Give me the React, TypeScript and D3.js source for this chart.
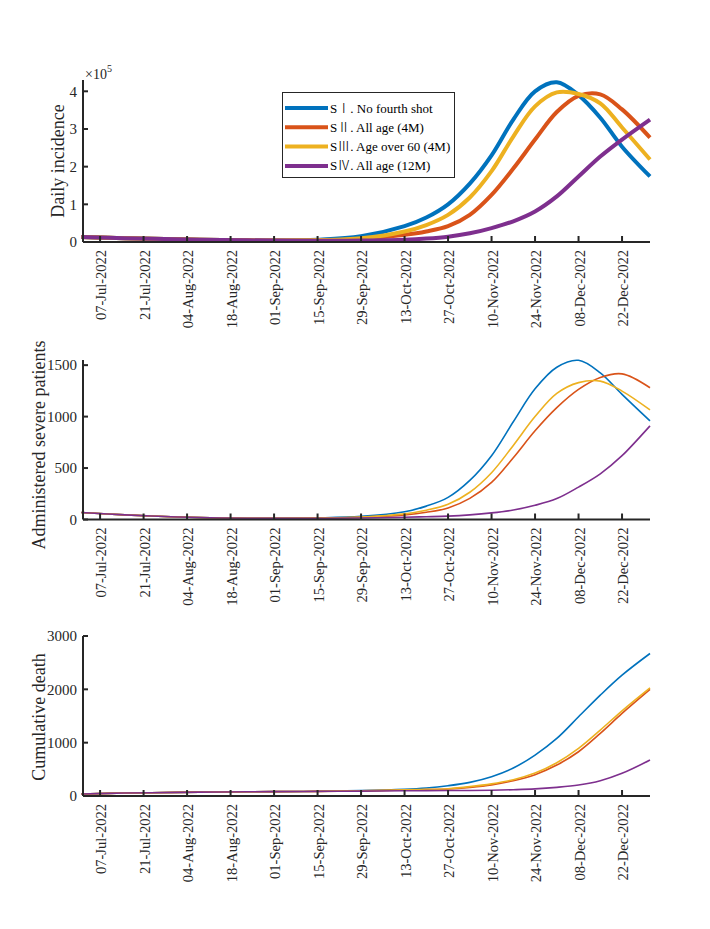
import React from "react";
import * as d3 from "d3";

// Sample dates
const sampleDates = [
  "2022-07-01", "2022-07-15", "2022-08-01", "2022-08-15", "2022-09-01", "2022-09-15",
  "2022-09-29", "2022-10-13", "2022-10-20", "2022-10-27", "2022-11-03", "2022-11-10",
  "2022-11-17", "2022-11-24", "2022-12-01", "2022-12-08", "2022-12-15", "2022-12-22", "2022-12-31",
];

// Daily incidence (x10^5)
const incS1 = [0.13, 0.10, 0.07, 0.05, 0.04, 0.06, 0.15, 0.42, 0.65, 1.0, 1.55, 2.3, 3.25, 4.0, 4.24, 3.9, 3.3, 2.53, 1.74];
const incS2 = [0.13, 0.10, 0.07, 0.05, 0.04, 0.04, 0.08, 0.19, 0.28, 0.42, 0.72, 1.25, 1.95, 2.72, 3.45, 3.88, 3.92, 3.52, 2.77];
const incS3 = [0.13, 0.10, 0.07, 0.05, 0.04, 0.05, 0.10, 0.28, 0.45, 0.72, 1.18, 1.88, 2.8, 3.6, 3.97, 3.93, 3.68, 3.04, 2.19];
const incS4 = [0.13, 0.10, 0.07, 0.05, 0.04, 0.03, 0.04, 0.06, 0.09, 0.14, 0.23, 0.37, 0.55, 0.81, 1.21, 1.74, 2.27, 2.72, 3.25];

// Administered severe patients
const sevS1 = [68, 45, 25, 15, 12, 16, 30, 75, 130, 215, 380, 620, 950, 1270, 1480, 1547, 1425, 1216, 958];
const sevS2 = [68, 45, 25, 15, 12, 14, 22, 45, 70, 112, 205, 360, 600, 862, 1087, 1264, 1380, 1415, 1280];
const sevS3 = [68, 45, 25, 15, 12, 15, 25, 55, 90, 148, 265, 455, 720, 1000, 1225, 1330, 1345, 1248, 1065];
const sevS4 = [68, 45, 25, 15, 12, 12, 15, 22, 27, 33, 45, 64, 92, 138, 203, 315, 444, 620, 910];

// Cumulative death
const deathS1 = [38, 55, 68, 76, 82, 88, 100, 125, 150, 193, 256, 362, 525, 768, 1080, 1485, 1891, 2266, 2672];
const deathS2 = [38, 55, 68, 76, 82, 87, 96, 112, 120, 131, 162, 208, 285, 400, 580, 830, 1174, 1548, 1998];
const deathS3 = [38, 55, 68, 76, 82, 87, 97, 115, 125, 137, 175, 228, 305, 430, 624, 893, 1236, 1598, 2028];
const deathS4 = [38, 55, 68, 76, 82, 86, 92, 98, 100, 102, 104, 108, 118, 133, 162, 206, 287, 425, 674];

const seriesNumerals = ["\u2160", "\u2161", "\u2162", "\u2163"];
const seriesNames = [". No fourth shot", ". All age (4M)", ". Age over 60 (4M)", ". All age (12M)"];
const seriesColors = ["#0072BD", "#D95319", "#EDB120", "#7E2F8E"];

const xTickDates = [
  "2022-07-07", "2022-07-21", "2022-08-04", "2022-08-18", "2022-09-01", "2022-09-15", "2022-09-29",
  "2022-10-13", "2022-10-27", "2022-11-10", "2022-11-24", "2022-12-08", "2022-12-22",
];
const monthAbbr = ["Jan", "Feb", "Mar", "Apr", "May", "Jun", "Jul", "Aug", "Sep", "Oct", "Nov", "Dec"];

const incTicks = [0, 1, 2, 3, 4];
const sevTicks = [0, 500, 1000, 1500];
const deathTicks = [0, 1000, 2000, 3000];

const parse = (s: string) => {
  const [y, m, d] = s.split("-").map(Number);
  return new Date(y, m - 1, d);
};
const fmtTick = (d: Date) =>
  `${String(d.getDate()).padStart(2, "0")}-${monthAbbr[d.getMonth()]}-${d.getFullYear()}`;

const AXIS = "#262626";
const FONT = "'Liberation Serif', 'Times New Roman', 'DejaVu Serif', serif";
const CJK = "'Noto Sans CJK SC', 'Noto Sans CJK JP', sans-serif";

const x = d3
  .scaleTime()
  .domain([new Date(2022, 6, 1, 12), new Date(2022, 11, 31)])
  .range([83, 650]);

type Panel = {
  top: number;
  bottom: number;
  ymax: number;
  ticks: number[];
  label: string;
  labelX: number;
  labelY: number;
  lw: number;
  series: number[][];
};

const panels: Panel[] = [
  { top: 80, bottom: 242, ymax: 4.3, ticks: incTicks, label: "Daily incidence", labelX: 64, labelY: 161, lw: 4, series: [incS1, incS2, incS3, incS4] },
  { top: 360, bottom: 519.5, ymax: 1550, ticks: sevTicks, label: "Administered severe patients", labelX: 45, labelY: 445, lw: 1.6, series: [sevS1, sevS2, sevS3, sevS4] },
  { top: 636, bottom: 796, ymax: 3000, ticks: deathTicks, label: "Cumulative death", labelX: 45, labelY: 717, lw: 1.6, series: [deathS1, deathS2, deathS3, deathS4] },
];

function PanelView({ p }: { p: Panel }) {
  const y = d3.scaleLinear().domain([0, p.ymax]).range([p.bottom, p.top]);
  const dates = sampleDates.map(parse);
  const line = d3
    .line<number>()
    .x((_, i) => x(dates[i]))
    .y((v) => y(v))
    .curve(d3.curveCatmullRom.alpha(0.5));
  const [x0, x1] = x.range();
  return (
    <g>
      {p.series.map((s, i) => (
        <path key={i} d={line(s) || ""} fill="none" stroke={seriesColors[i]} strokeWidth={p.lw} strokeLinejoin="round" />
      ))}
      {/* axes */}
      <line x1={x0} x2={x1} y1={p.bottom} y2={p.bottom} stroke={AXIS} strokeWidth={2} />
      <line x1={x0} x2={x0} y1={p.top} y2={p.bottom} stroke={AXIS} strokeWidth={2} />
      {xTickDates.map((ds) => {
        const d = parse(ds);
        const xx = x(d);
        return (
          <g key={ds}>
            <line x1={xx} x2={xx} y1={p.bottom} y2={p.bottom - 6} stroke={AXIS} strokeWidth={2} />
            <text
              transform={`translate(${xx + 1},${p.bottom + 8}) rotate(-90)`}
              textAnchor="end"
              dy="0.35em"
              fontSize={14.5}
              fontFamily={FONT}
              fill={AXIS}
            >
              {fmtTick(d)}
            </text>
          </g>
        );
      })}
      {p.ticks.map((t) => (
        <g key={t}>
          <line x1={x0} x2={x0 + 5} y1={y(t)} y2={y(t)} stroke={AXIS} strokeWidth={2} />
          <text x={x0 - 6} y={y(t)} dy="0.35em" textAnchor="end" fontSize={15} fontFamily={FONT} fill={AXIS}>
            {t}
          </text>
        </g>
      ))}
      <text
        transform={`translate(${p.labelX},${p.labelY}) rotate(-90)`}
        textAnchor="middle"
        fontSize={18}
        fontFamily={FONT}
        fill={AXIS}
      >
        {p.label}
      </text>
    </g>
  );
}

export default function App() {
  return (
    <svg
      width={710}
      height={929}
      viewBox="0 0 710 929"
      style={{ position: "absolute", left: 0, top: 0, background: "#fff" }}
    >
      <rect width={710} height={929} fill="#fff" />
      {panels.map((p, i) => (
        <PanelView key={i} p={p} />
      ))}
      {/* exponent label */}
      <text x={85} y={79} fontSize={14} fontFamily={FONT} fill={AXIS}>
        {"\u00D710"}
        <tspan fontSize={10} dy={-7}>5</tspan>
      </text>
      {/* legend */}
      <g>
        <rect x={282.5} y={92.5} width={172} height={85} fill="#fff" stroke={AXIS} strokeWidth={1} />
        {seriesNames.map((n, i) => {
          const yy = 108 + i * 19.3;
          return (
            <g key={n}>
              <line x1={285} x2={328} y1={yy} y2={yy} stroke={seriesColors[i]} strokeWidth={4} />
              <text x={330} y={yy} dy="0.35em" fontSize={13} fontFamily={FONT} fill="#000">
                S
                <tspan fontFamily={CJK} fontWeight={300}>{seriesNumerals[i]}</tspan>
                {n}
              </text>
            </g>
          );
        })}
      </g>
    </svg>
  );
}
